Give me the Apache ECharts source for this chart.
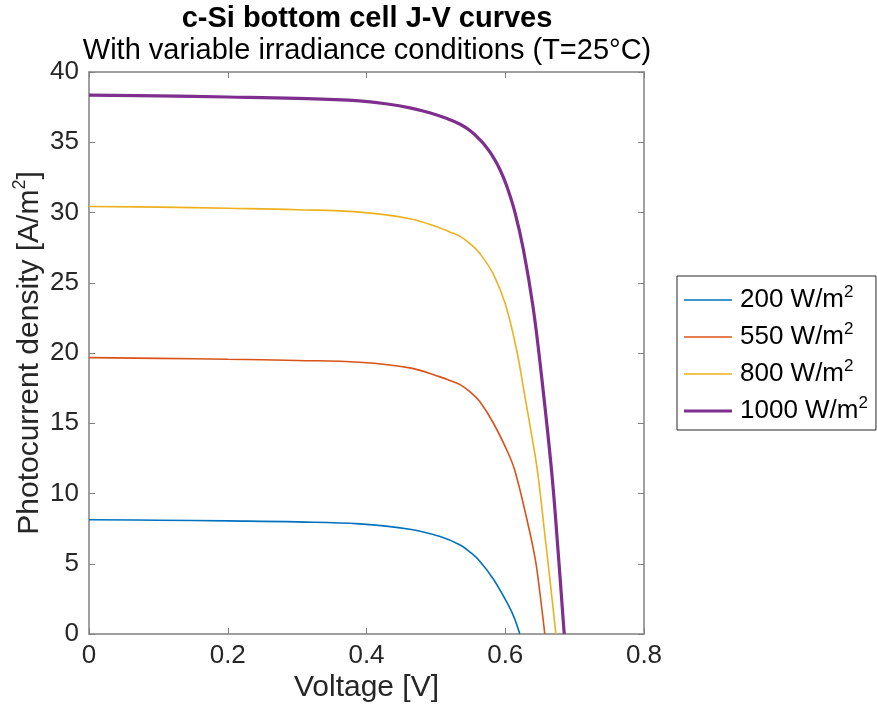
<!DOCTYPE html>
<html>
<head>
<meta charset="utf-8">
<script src="https://cdn.jsdelivr.net/npm/echarts@6/dist/echarts.min.js"></script>
<style>
  html, body { margin: 0; padding: 0; background: #fff; }
  #chart { width: 877px; height: 707px; }
</style>
</head>
<body>
<div id="chart"></div>
<script>
// irradiance levels (W/m2), one curve each
const irradiance = [200, 550, 800, 1000];
const colors = ['#0072BD', '#D95319', '#EDB120', '#7E2F8E'];
const widths = [1.6, 1.6, 1.6, 3.2];

// J-V points: voltage [V], current density [A/m2]
const v200 = [0, 0.1, 0.2, 0.3, 0.39, 0.4625, 0.506, 0.535, 0.55, 0.563, 0.583, 0.604, 0.613, 0.621];
const j200 = [8.13, 8.1, 8.05, 7.98, 7.84, 7.46, 6.94, 6.34, 5.8, 5.2, 3.9, 2.1, 1.15, 0];

const v550 = [0, 0.1, 0.2, 0.3, 0.39, 0.4625, 0.506, 0.52, 0.535, 0.55, 0.563, 0.583, 0.604, 0.614, 0.631, 0.643, 0.650, 0.657];
const j550 = [19.67, 19.62, 19.55, 19.47, 19.34, 18.94, 18.3, 18.05, 17.75, 17.2, 16.56, 15.0, 12.9, 11.6, 8.2, 5.4, 2.9, 0];

const v800 = [0, 0.1, 0.2, 0.3, 0.39, 0.4625, 0.506, 0.52, 0.535, 0.55, 0.563, 0.583, 0.600, 0.616, 0.628, 0.640, 0.647, 0.657, 0.665, 0.673];
const j800 = [30.43, 30.38, 30.3, 30.2, 30.03, 29.56, 28.9, 28.62, 28.3, 27.75, 27.1, 25.6, 23.5, 20.3, 17.0, 13.6, 11.4, 7.1, 3.6, 0];

const v1000 = [0, 0.1, 0.2, 0.3, 0.39, 0.43, 0.4625, 0.491, 0.515, 0.535, 0.55, 0.563, 0.572, 0.582, 0.592, 0.602, 0.614, 0.626, 0.640, 0.652, 0.667, 0.676, 0.685];
const j1000 = [38.35, 38.3, 38.22, 38.12, 37.94, 37.72, 37.45, 37.1, 36.7, 36.28, 35.8, 35.2, 34.7, 34.0, 33.1, 31.9, 30.0, 27.4, 23.3, 18.5, 11.5, 6.0, 0];

const xTicks = [0, 0.2, 0.4, 0.6, 0.8];
const yTicks = [0, 5, 10, 15, 20, 25, 30, 35, 40];

const voltages = [v200, v550, v800, v1000];
const currents = [j200, j550, j800, j1000];

const FONT = '"Liberation Sans", Helvetica, Arial, sans-serif';
const AXIS_GRAY = '#808080';
const TEXT = '#262626';

const chart = echarts.init(document.getElementById('chart'));

function pairs(xs, ys) {
  return xs.map((x, i) => [x, ys[i]]);
}

// legend icon: a horizontal band of the line's width inside a 48x14 box
function bandIcon(w) {
  const a = (7 - w / 2).toFixed(2), b = (7 + w / 2).toFixed(2);
  return 'path://M0,0M48,14M0,' + a + 'H48V' + b + 'H0Z';
}

const series = irradiance.map((g, k) => ({
  name: String(g),
  type: 'line',
  data: pairs(voltages[k], currents[k]),
  smooth: 0.4,
  showSymbol: false,
  symbol: 'none',
  lineStyle: { color: colors[k], width: widths[k] },
  itemStyle: { color: colors[k] },
  z: 2 + k
}));

const tickStyle = { show: true, inside: true, length: 6, lineStyle: { color: AXIS_GRAY, width: 1 } };
const lineStyle = { show: true, onZero: false, lineStyle: { color: AXIS_GRAY, width: 1.5 } };
const supRich = { sup: { fontSize: 18, fontFamily: FONT, color: TEXT, verticalAlign: 'top', lineHeight: 18 } };

function xAx(pos, labels) {
  return {
    type: 'value', position: pos, min: xTicks[0], max: xTicks[xTicks.length - 1], interval: 0.2,
    axisLine: lineStyle, axisTick: tickStyle, splitLine: { show: false },
    axisLabel: { show: labels, color: TEXT, fontFamily: FONT, fontSize: 26, margin: 9 },
    name: labels ? 'Voltage [V]' : '', nameLocation: 'middle', nameGap: 39, nameMoveOverlap: false,
    nameTextStyle: { color: TEXT, fontFamily: FONT, fontSize: 30 }
  };
}
function yAx(pos, labels) {
  return {
    type: 'value', position: pos, min: yTicks[0], max: yTicks[yTicks.length - 1], interval: 5,
    axisLine: lineStyle, axisTick: tickStyle, splitLine: { show: false },
    axisLabel: { show: labels, color: TEXT, fontFamily: FONT, fontSize: 26, margin: 10 },
    name: labels ? 'Photocurrent density [A/m{sup|2}]' : '', nameLocation: 'middle', nameGap: 40,
    nameRotate: 90, nameMoveOverlap: false,
    nameTextStyle: { color: TEXT, fontFamily: FONT, fontSize: 30, lineHeight: 38, rich: supRich }
  };
}

chart.setOption({
  animation: false,
  backgroundColor: '#fff',
  grid: { left: 89, top: 72, width: 555, height: 562, containLabel: false, outerBoundsMode: 'none' },
  xAxis: [xAx('bottom', true), xAx('top', false)],
  yAxis: [yAx('left', true), yAx('right', false)],
  legend: {
    orient: 'vertical', left: 677, top: 276,
    padding: [8, 8, 3, 7], itemGap: 5, itemWidth: 48, itemHeight: 14,
    borderColor: TEXT, borderWidth: 1, backgroundColor: '#fff',
    data: irradiance.map((g, k) => ({ name: String(g), icon: bandIcon(widths[k]) })),
    formatter: name => name + ' W/m{sup|2}',
    textStyle: {
      color: '#000', fontFamily: FONT, fontSize: 26, lineHeight: 32, padding: [0, 0, 0, 3],
      rich: { sup: { fontSize: 17, fontFamily: FONT, color: '#000', verticalAlign: 'top', lineHeight: 16 } }
    }
  },
  graphic: [
    { type: 'text', x: 367, y: 19, style: { text: 'c-Si bottom cell J-V curves', font: 'bold 29px ' + FONT, fill: '#000', textAlign: 'center', textVerticalAlign: 'middle', align: 'center', verticalAlign: 'middle' } },
    { type: 'text', x: 367, y: 51, style: { text: 'With variable irradiance conditions (T=25°C)', font: '29px ' + FONT, fill: '#000', textAlign: 'center', textVerticalAlign: 'middle', align: 'center', verticalAlign: 'middle' } }
  ],
  series: series
});
</script>
</body>
</html>
